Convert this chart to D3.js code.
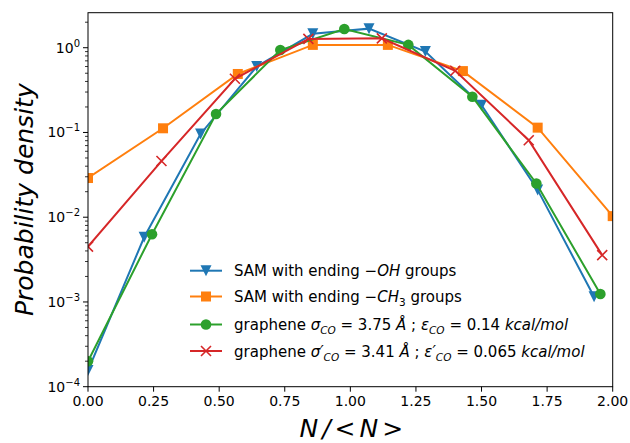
<!DOCTYPE html>
<html><head><meta charset="utf-8">
<script src="https://cdn.jsdelivr.net/npm/d3@7"></script>
<style>body{margin:0;background:#fff}svg{display:block}text{font-family:"DejaVu Sans",sans-serif;fill:#000}</style>
</head><body><svg id="c" width="630" height="443"></svg>
<script>
const xOH  = [0, 0.214, 0.429, 0.643, 0.857, 1.071, 1.286, 1.5, 1.714, 1.929];
const yOH  = [1.55e-4, 5.8e-3, 0.096, 0.60, 1.46, 1.68, 0.90, 0.21, 0.021, 1.15e-3];
const xCH3 = [0, 0.286, 0.571, 0.857, 1.143, 1.429, 1.714, 2.0];
const yCH3 = [0.029, 0.112, 0.49, 1.08, 1.08, 0.53, 0.114, 0.0103];
const xG   = [0, 0.244, 0.488, 0.733, 0.977, 1.221, 1.465, 1.709, 1.953];
const yG   = [2.0e-4, 6.3e-3, 0.165, 0.94, 1.66, 1.08, 0.264, 0.025, 1.24e-3];
const xR   = [0, 0.28, 0.56, 0.84, 1.12, 1.40, 1.68, 1.96];
const yR   = [4.5e-3, 0.046, 0.43, 1.27, 1.29, 0.535, 0.081, 3.57e-3];
const xTicks = [0, 0.25, 0.5, 0.75, 1.0, 1.25, 1.5, 1.75, 2.0];
const xTickLabels = ["0.00","0.25","0.50","0.75","1.00","1.25","1.50","1.75","2.00"];
const yTickExps = [-4, -3, -2, -1, 0];

const L = 88, T = 12.7, R = 612.7, B = 386.7;
const svg = d3.select("#c");
const x = d3.scaleLinear().domain([0, 2]).range([L, R]);
const y = d3.scaleLog().domain([1e-4, 2.59]).range([B, T]);

const series = [
  {xs: xOH, ys: yOH, color: "#1f77b4", marker: "tri"},
  {xs: xCH3, ys: yCH3, color: "#ff7f0e", marker: "sq"},
  {xs: xG, ys: yG, color: "#2ca02c", marker: "circ"},
  {xs: xR, ys: yR, color: "#d62728", marker: "x"}
];

svg.append("defs").append("clipPath").attr("id","clip")
  .append("rect").attr("x", L).attr("y", T).attr("width", R-L).attr("height", B-T);

function drawMarker(g, type, cx, cy, color) {
  if (type === "tri") {
    const h = 5.5;
    g.append("path").attr("d", `M${cx-h},${cy-h}L${cx+h},${cy-h}L${cx},${cy+h}Z`).attr("fill", color);
  } else if (type === "sq") {
    g.append("rect").attr("x", cx-5).attr("y", cy-5).attr("width", 10).attr("height", 10).attr("fill", color);
  } else if (type === "circ") {
    g.append("circle").attr("cx", cx).attr("cy", cy).attr("r", 5.3).attr("fill", color);
  } else {
    const h = 5;
    g.append("path").attr("d", `M${cx-h},${cy-h}L${cx+h},${cy+h}M${cx-h},${cy+h}L${cx+h},${cy-h}`)
      .attr("stroke", color).attr("stroke-width", 1.6).attr("fill", "none");
  }
}

const plot = svg.append("g").attr("clip-path", "url(#clip)");
const line = d3.line().x(d => x(d[0])).y(d => y(d[1]));
series.forEach(s => {
  const pts = s.xs.map((v, i) => [v, s.ys[i]]);
  const g = plot.append("g");
  g.append("path").attr("d", line(pts)).attr("fill", "none").attr("stroke", s.color).attr("stroke-width", 2);
  pts.forEach(p => drawMarker(g, s.marker, x(p[0]), y(p[1]), s.color));
});

// frame
svg.append("rect").attr("x", L).attr("y", T).attr("width", R-L).attr("height", B-T)
  .attr("fill", "none").attr("stroke", "#000").attr("stroke-width", 1);

// x axis
const xa = svg.append("g");
xTicks.forEach((t, i) => {
  xa.append("line").attr("x1", x(t)).attr("x2", x(t)).attr("y1", B).attr("y2", B+5).attr("stroke", "#000");
  xa.append("text").attr("x", x(t)).attr("y", B+19.5).attr("text-anchor", "middle").attr("font-size", 14).text(xTickLabels[i]);
});

// y axis major + minor
const ya = svg.append("g");
yTickExps.forEach(e => {
  const v = Math.pow(10, e);
  ya.append("line").attr("x1", L-5).attr("x2", L).attr("y1", y(v)).attr("y2", y(v)).attr("stroke", "#000");
  const t = ya.append("text").attr("x", L-8).attr("y", y(v)+5).attr("text-anchor", "end").attr("font-size", 14);
  t.append("tspan").text("10");
  t.append("tspan").attr("dy", -6).attr("font-size", 10).text(e === 0 ? "0" : "\u2212" + Math.abs(e));
  for (let k = 2; k <= 9; k++) {
    const mv = k * v;
    if (mv <= y.domain()[1]) {
      ya.append("line").attr("x1", L-3).attr("x2", L).attr("y1", y(mv)).attr("y2", y(mv)).attr("stroke", "#000").attr("stroke-width", 0.8);
    }
  }
});

// axis labels
svg.append("text").attr("transform", `translate(33,${(T+B)/2}) rotate(-90)`).attr("text-anchor", "middle")
  .attr("font-size", 25).attr("font-style", "italic").text("Probability density");
const xl = svg.append("text").attr("x", (L+R)/2 + 1).attr("y", 437).attr("text-anchor", "middle")
  .attr("font-size", 25).attr("font-style", "italic");
xl.append("tspan").text("N");
xl.append("tspan").attr("dx", 4).text("/");
xl.append("tspan").attr("dx", 4).text("<");
xl.append("tspan").attr("dx", 4).text("N");
xl.append("tspan").attr("dx", 4).text(">");

// legend
const legendRows = [
  {s: series[0], cy: 270.7, parts: [["SAM with ending \u2212"], ["OH", "i"], [" groups"]]},
  {s: series[1], cy: 296.5, parts: [["SAM with ending \u2212"], ["CH", "i"], ["3", "sub"], [" groups"]]},
  {s: series[2], cy: 324.5, parts: [["graphene  "], ["\u03c3", "i"], ["CO", "isub"], [" = 3.75 "], ["\u00c5", "i"], [" ; "], ["\u03b5", "i"], ["CO", "isub"], [" = 0.14 "], ["kcal/mol", "i"]]},
  {s: series[3], cy: 351, parts: [["graphene  "], ["\u03c3\u2032", "i"], ["CO", "isub"], [" = 3.41 "], ["\u00c5", "i"], [" ; "], ["\u03b5\u2032", "i"], ["CO", "isub"], [" = 0.065 "], ["kcal/mol", "i"]]}
];
const lg = svg.append("g");
legendRows.forEach(r => {
  lg.append("line").attr("x1", 190).attr("x2", 222).attr("y1", r.cy).attr("y2", r.cy).attr("stroke", r.s.color).attr("stroke-width", 2);
  drawMarker(lg, r.s.marker, 206, r.cy, r.s.color);
  const t = lg.append("text").attr("x", 234).attr("y", r.cy + 5.5).attr("font-size", 15);
  let shifted = false;
  r.parts.forEach(p => {
    const ts = t.append("tspan").text(p[0]);
    const kind = p[1] || "";
    if (kind.includes("i")) ts.attr("font-style", "italic");
    if (kind.includes("sub")) { ts.attr("font-size", 10.5).attr("dy", 4); shifted = true; }
    else if (shifted) { ts.attr("dy", -4); shifted = false; }
  });
});
</script></body></html>
